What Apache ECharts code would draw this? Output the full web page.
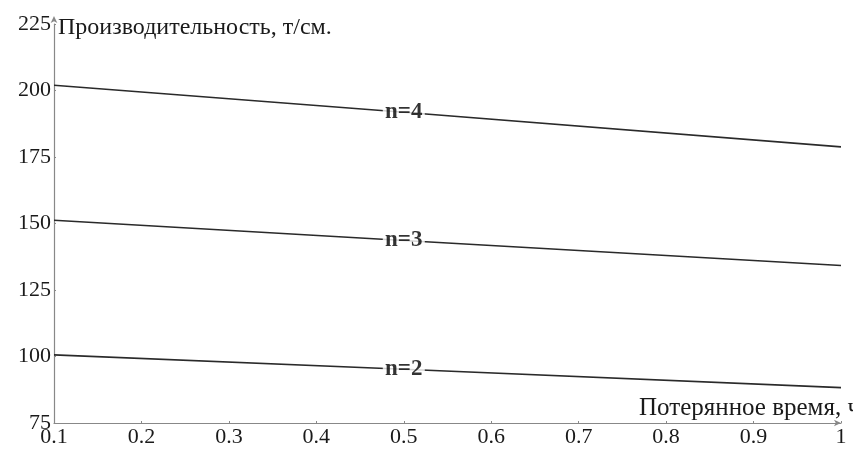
<!DOCTYPE html>
<html><head><meta charset="utf-8">
<script src="https://cdn.jsdelivr.net/npm/echarts@6/dist/echarts.min.js"></script>
<style>html,body{margin:0;padding:0;background:#fff}#c{width:853px;height:450px}</style>
</head><body><div id="c"></div>
<script>
var xValues = [0.1, 0.5, 1.0];
var n4 = [202, 191.8, 178.8];
var n3 = [151.2, 143.6, 134.2];
var n2 = [100.6, 95.2, 88.3];
var seriesNames = ['n=4', 'n=3', 'n=2'];
var yTicks = [75, 100, 125, 150, 175, 200, 225];

var font = 'Liberation Serif';
function mkLine(name, vals) {
  return {
    type: 'line', name: name, symbol: 'none', silent: true, z: 2,
    lineStyle: { color: '#2a2a2a', width: 1.6 },
    data: xValues.map(function (x, i) { return [x, vals[i]]; })
  };
}
function mkLabel(name, vals) {
  return {
    type: 'scatter', name: name + ' label', silent: true, z: 5,
    symbol: 'rect', symbolSize: [42, 16], itemStyle: { color: '#fff' },
    label: { show: true, position: 'inside', formatter: name,
      fontFamily: font, fontWeight: 'bold', fontSize: 23, color: '#000' },
    data: [[xValues[1], vals[1]]]
  };
}
var chart = echarts.init(document.getElementById('c'), null, { renderer: 'canvas' });
chart.setOption({
  animation: false,
  backgroundColor: '#fff',
  grid: { left: 54, right: 12, top: 24, bottom: 27, containLabel: false, outerBoundsMode: 'none' },
  xAxis: {
    type: 'value', min: 0.1, max: 1, interval: 0.1,
    name: 'Потерянное время, ч', nameLocation: 'end', nameGap: 19,
    nameTextStyle: { fontFamily: font, fontSize: 25, color: '#1a1a1a', align: 'right', verticalAlign: 'bottom', padding: [0, 0, 2, 0] },
    axisLine: { lineStyle: { color: '#888', width: 1.2 }, symbol: ['none', 'arrow'], symbolSize: [5, 7] },
    axisTick: { show: true, inside: true, length: 2, lineStyle: { color: '#888' } },
    splitLine: { show: false },
    axisLabel: { fontFamily: font, fontSize: 22, color: '#1a1a1a', margin: 3,
      formatter: function (v) { return Math.abs(v - 1) < 1e-9 ? '1' : v.toFixed(1); } }
  },
  yAxis: {
    type: 'value', min: 75, max: 225, interval: 25,
    name: 'Производительность, т/см.', nameLocation: 'end', nameGap: -4,
    nameTextStyle: { fontFamily: font, fontSize: 24, color: '#1a1a1a', align: 'left', verticalAlign: 'middle', padding: [0, 0, 0, 4] },
    axisLine: { show: true, lineStyle: { color: '#888', width: 1.2 }, symbol: ['none', 'arrow'], symbolSize: [5, 7], symbolOffset: [0, 8] },
    axisTick: { show: true, inside: true, length: 2, lineStyle: { color: '#888' } },
    splitLine: { show: false },
    axisLabel: { fontFamily: font, fontSize: 22, color: '#1a1a1a', margin: 3,
      formatter: function (v) { return yTicks.indexOf(v) >= 0 ? String(v) : ''; } }
  },
  series: [
    mkLine(seriesNames[0], n4), mkLine(seriesNames[1], n3), mkLine(seriesNames[2], n2),
    mkLabel(seriesNames[0], n4), mkLabel(seriesNames[1], n3), mkLabel(seriesNames[2], n2)
  ]
});
</script></body></html>
